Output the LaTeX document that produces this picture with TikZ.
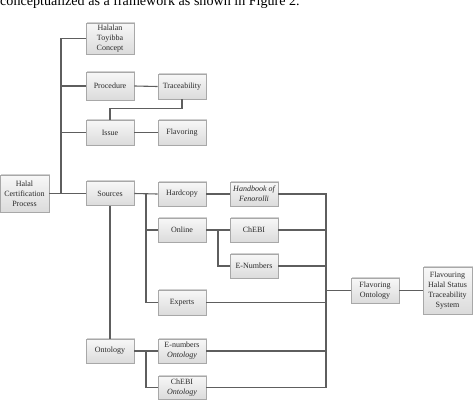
\documentclass[tikz,border=0pt]{standalone}
\usepackage{fontspec}
\setmainfont{Liberation Serif}
\usetikzlibrary{shadows}
\definecolor{linec}{HTML}{5E5E5E}
\definecolor{boxdraw}{HTML}{A8A8A8}
\definecolor{txt}{HTML}{2A2A2A}
\tikzset{
  bx/.style={draw=boxdraw, line width=0.6pt, top color=white!97!black, bottom color=white!86!black,
    drop shadow={shadow xshift=1.2pt, shadow yshift=1.2pt, fill=black!40, opacity=0.45},
    text=txt, font=\fontsize{8}{10}\selectfont, align=center, inner sep=1pt,
    minimum width=48pt, minimum height=24pt},
  ln/.style={draw=linec, line width=1.1pt}
}
\begin{document}
\begin{tikzpicture}[x=1pt,y=-1pt]
\useasboundingbox (0,0) rectangle (474,402);
\begin{scope}
\clip (0,0) rectangle (474,402);
\node[anchor=base west, inner sep=0pt, font=\fontsize{14.1}{16}\selectfont, text=black] (cap) at (0,5) {conceptualized as a framework as shown in Figure 2.};
\end{scope}
% nodes
\node[bx, minimum height=31pt] (htc) at (110,38.5) {Halalan\\Toyibba\\Concept};
\node[bx, minimum height=28pt] (proc) at (110,86) {Procedure};
\node[bx, minimum height=25pt] (trace) at (182,86.5) {Traceability};
\node[bx, minimum height=25pt] (issue) at (110,132.5) {Issue};
\node[bx, minimum height=25pt] (flav) at (182,132.5) {Flavoring};
\node[bx, minimum width=49pt, minimum height=37pt] (hcp) at (24.5,193.5) {Halal\\Certification\\Process};
\node[bx] (src) at (110,193.5) {Sources};
\node[bx] (hard) at (182,194) {Hardcopy};
\node[bx] (hand) at (254,194) {\itshape Handbook of\\\itshape Fenorolli};
\node[bx] (online) at (182,230) {Online};
\node[bx] (chebi) at (254,230) {ChEBI};
\node[bx] (enum) at (254,266) {E-Numbers};
\node[bx, minimum height=25pt] (experts) at (182,302.5) {Experts};
\node[bx] (onto) at (110,351) {Ontology};
\node[bx] (enonto) at (182,351) {E-numbers\\\itshape Ontology};
\node[bx, minimum height=23pt] (chonto) at (182,387.5) {ChEBI\\\itshape Ontology};
\node[bx, minimum height=25pt] (flonto) at (375,290.5) {Flavoring\\Ontology};
\node[bx, minimum width=49pt, minimum height=47pt] (fhsts) at (447.5,290.5) {Flavouring\\Halal Status\\Traceability\\System};
% junctions
\coordinate (j1) at (61,193.5);
\coordinate (j2) at (146,193.5);
\coordinate (j3) at (218,230);
\coordinate (j4) at (146,351);
\coordinate (jc) at (326,290.5);
% connectors
\begin{scope}[on background layer/.try]
\draw[ln] (hcp.east) -- (src.west);
\draw[ln] (htc.west) -| (j1);
\draw[ln] (proc.west) -| (j1);
\draw[ln] (issue.west) -| (j1);
\draw[ln] (proc.east) -- (trace.west);
\draw[ln] (trace.south) -- ++(0,9) -| (issue.north);
\draw[ln] (issue.east) -- (flav.west);
\draw[ln] (src.east) -- (hard.west);
\draw[ln] (j2) |- (online.west);
\draw[ln] (j2) |- (experts.west);
\draw[ln] (hard.east) -- (hand.west);
\draw[ln] (online.east) -- (chebi.west);
\draw[ln] (j3) |- (enum.west);
\draw[ln] (src.south) -- (onto.north);
\draw[ln] (onto.east) -- (enonto.west);
\draw[ln] (j4) |- (chonto.west);
\draw[ln] (hand.east) -| (jc);
\draw[ln] (chebi.east) -| (jc);
\draw[ln] (enum.east) -| (jc);
\draw[ln] (experts.east) -| (jc);
\draw[ln] (enonto.east) -| (jc);
\draw[ln] (chonto.east) -| (jc);
\draw[ln] (jc) -- (flonto.west);
\draw[ln] (flonto.east) -- (fhsts.west);
\end{scope}
\end{tikzpicture}
\end{document}
